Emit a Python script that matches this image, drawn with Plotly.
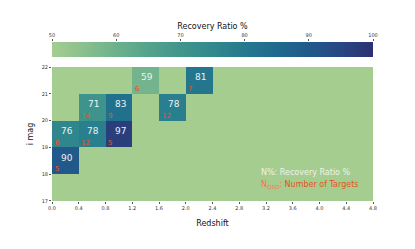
import plotly.graph_objects as go

# Data: bins (lower edges) of redshift and i mag, recovery ratio (%) and counts
z_lo = [0.0, 0.0, 0.4, 0.8, 0.4, 0.8, 1.6, 1.2, 2.0]
imag_lo = [18, 19, 19, 19, 20, 20, 20, 21, 21]
ratio = [90, 76, 78, 97, 71, 83, 78, 59, 81]
counts = [5, 6, 12, 5, 14, 9, 12, 6, 7]

x_edges = [0.0, 0.4, 0.8, 1.2, 1.6, 2.0, 2.4, 2.8, 3.2, 3.6, 4.0, 4.4, 4.8]
y_edges = [17, 18, 19, 20, 21, 22]
x_ticks = x_edges
y_ticks = y_edges
cbar_ticks = [50, 60, 70, 80, 90, 100]
bin_w = 0.4
bin_h = 1

crest = [
    [0.0, "#a5cd90"], [0.1, "#89bf8d"], [0.2, "#6db18c"], [0.3, "#55a38c"],
    [0.4, "#41958c"], [0.5, "#32898d"], [0.6, "#25798e"], [0.7, "#1f6a8d"],
    [0.8, "#22598b"], [0.9, "#284783"], [1.0, "#2c3172"],
]

nx = len(x_edges) - 1
ny = len(y_edges) - 1
grid = [[None] * nx for _ in range(ny)]
for zl, il, r in zip(z_lo, imag_lo, ratio):
    ix = int(round(zl / bin_w))
    iy = int(round((il - y_edges[0]) / bin_h))
    grid[iy][ix] = r

# paper layout (page body adds an 8px offset, compensated in margins)
TOP = 0.7403
CB_Y0, CB_Y1 = 0.7956, 0.8785

fig = go.Figure()
fig.add_trace(go.Heatmap(
    x=x_edges, y=y_edges, z=grid, colorscale=crest, zmin=50, zmax=100,
    hoverongaps=False,
    colorbar=dict(orientation="h", x=0.5, xanchor="center", y=CB_Y0, yanchor="bottom",
                  len=1, lenmode="fraction", thickness=15, xpad=0, ypad=0,
                  outlinewidth=0, showticklabels=False, ticks=""),
))
# invisible trace for colorbar tick axis
fig.add_trace(go.Scatter(x=[cbar_ticks[0], cbar_ticks[-1]], y=[0, 0], xaxis="x2", yaxis="y2",
                         mode="markers", marker=dict(opacity=0), hoverinfo="skip", showlegend=False))

ann = []
for zl, il, r, n in zip(z_lo, imag_lo, ratio, counts):
    ann.append(dict(x=zl + bin_w - 0.06, y=il + 0.62, text=str(r), showarrow=False,
                    xanchor="right", yanchor="middle",
                    font=dict(family="DejaVu Sans", size=9, color="#eef2f2")))
    ann.append(dict(x=zl + 0.01, y=il + 0.18, text=str(n), showarrow=False,
                    xanchor="left", yanchor="middle",
                    font=dict(family="DejaVu Sans", size=7, color="#e0561f")))

ann.append(dict(x=3.1, y=18.07, text="N%: Recovery Ratio %", showarrow=False,
                xanchor="left", yanchor="middle",
                font=dict(family="DejaVu Sans", size=8, color="#eef2e6")))
ann.append(dict(x=3.1, y=17.6,
                text="<span style='color:#ea7a4a'>N<sub>QSO</sub>:</span> Number of Targets",
                showarrow=False, xanchor="left", yanchor="middle",
                font=dict(family="DejaVu Sans", size=8, color="#e0561f")))

tickfont = dict(family="DejaVu Sans", size=5, color="#333333")
fig.update_layout(
    width=415, height=249,
    margin=dict(l=44, r=50, t=12, b=56),
    paper_bgcolor="white", plot_bgcolor="#a5cd90",
    xaxis=dict(range=[0, 4.8], domain=[0, 1], tickvals=x_ticks, ticktext=[f"{v:.1f}" for v in x_ticks],
               tickfont=tickfont, ticks="outside", ticklen=2, tickcolor="#555", automargin=False,
               showgrid=False, zeroline=False, showline=False,
               title=dict(text="Redshift", font=dict(family="DejaVu Sans", size=8, color="#111"), standoff=10)),
    yaxis=dict(range=[17, 22], domain=[0, TOP], tickvals=y_ticks, tickfont=tickfont,
               ticks="outside", ticklen=2, tickcolor="#555", automargin=False,
               showgrid=False, zeroline=False, showline=False,
               title=dict(text="i mag", font=dict(family="DejaVu Sans", size=8, color="#111"), standoff=6)),
    xaxis2=dict(range=[50, 100], domain=[0, 1], anchor="y2", side="top", tickvals=cbar_ticks,
                tickfont=tickfont, ticks="outside", ticklen=2, tickcolor="#555", automargin=False,
                showgrid=False, zeroline=False, showline=False,
                title=dict(text="Recovery Ratio %", font=dict(family="DejaVu Sans", size=8, color="#111"), standoff=1)),
    yaxis2=dict(domain=[CB_Y0, CB_Y1], anchor="x2", visible=False, range=[-1, 1], automargin=False),
    annotations=ann,
    showlegend=False,
)
fig.write_html("out.html")
